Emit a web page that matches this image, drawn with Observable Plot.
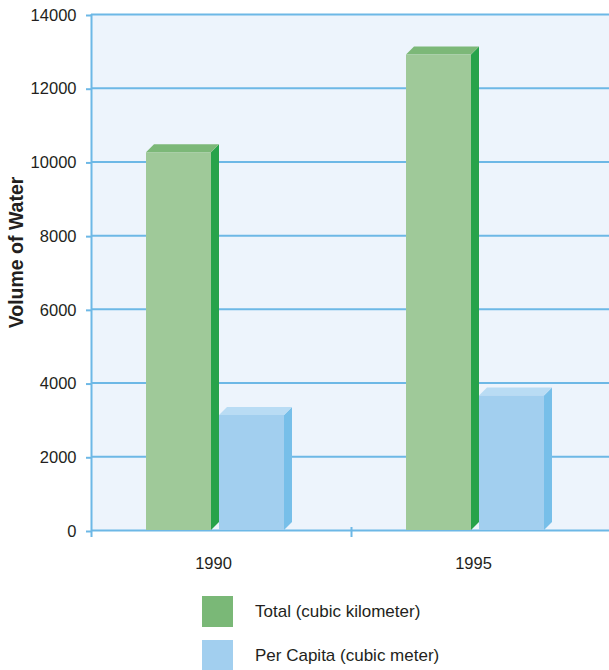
<!DOCTYPE html>
<html><head><meta charset="utf-8">
<script src="https://cdn.jsdelivr.net/npm/d3@7"></script>
<script src="https://cdn.jsdelivr.net/npm/@observablehq/plot@0.6"></script>
<style>
body{margin:0;background:#fff;font-family:"Liberation Sans",Arial,Helvetica,sans-serif;color:#231f20}
#legend{position:relative;height:85px;width:609px}
.item{position:absolute;left:202px;display:flex;align-items:center;font-size:17px;height:31px}
.sw{width:31px;height:31px;margin-right:22px}
</style></head><body>
<div id="chart"></div>
<div id="legend"></div>
<script>
const years = ["1990", "1995"];
const seriesNames = ["Total (cubic kilometer)", "Per Capita (cubic meter)"];
const totalValues = [10250, 12900];
const perCapitaValues = [3120, 3650];
const yTicks = [0, 2000, 4000, 6000, 8000, 10000, 12000, 14000];
const yLabel = "Volume of Water";

const gridColor = "#6db8e6";
const bgColor = "#edf4fc";
const colors = {
  total: {front: "#9fc999", top: "#7cb878", side: "#27a34a", legend: "#7ab877"},
  perCapita: {front: "#a2cfef", top: "#b9dcf4", side: "#77bfe9", legend: "#a2cfef"}
};

const totalData = years.map((y, i) => ({year: y, value: totalValues[i]}));
const perCapitaData = years.map((y, i) => ({year: y, value: perCapitaValues[i]}));

const band = (611 - 91) / years.length;
const totalInset = {insetLeft: 55, insetRight: 140};
const perInset = {insetLeft: 128, insetRight: 67};

function faces(data, inset, c, key) {
  return [
    Plot.barY(data, {x: "year", y: "value", fill: c.side, ariaDescription: "side-" + key, ...inset}),
    Plot.barY(data, {x: "year", y: "value", fill: c.top, ariaDescription: "top-" + key, ...inset}),
    Plot.barY(data, {x: "year", y: "value", fill: c.front, ariaDescription: "front-" + key, ...inset})
  ];
}

const chart = Plot.plot({
  width: 609,
  height: 585,
  marginLeft: 91,
  marginRight: 0,
  marginTop: 14,
  marginBottom: 55,
  style: {fontFamily: '"Liberation Sans", Arial, Helvetica, sans-serif', fontSize: "16.5px", color: "#231f20", background: "white", overflow: "visible"},
  x: {type: "band", domain: years, range: [91, 611], padding: 0},
  y: {domain: [0, 14000]},
  marks: [
    Plot.frame({fill: bgColor, stroke: "none"}),
    Plot.ruleY(yTicks, {stroke: gridColor, strokeWidth: 2}),
    Plot.axisY({ticks: yTicks, tickSize: 5, tickPadding: 10, stroke: gridColor, strokeWidth: 2, strokeOpacity: 1, tickFormat: d => String(d), label: null, dy: 1, fontSize: 16.5}),
    Plot.ruleX([years[0]], {x: d => d, dx: -band / 2, stroke: gridColor, strokeWidth: 2, insetBottom: -7}),
    Plot.ruleX([years[1]], {x: d => d, dx: -band / 2, y1: 0, y2: 0, stroke: gridColor, strokeWidth: 2, insetTop: -3, insetBottom: -7}),
    Plot.axisX({tickSize: 0, tickPadding: 27, dx: -8, label: null, fontSize: 16.5}),
    Plot.text([yLabel], {frameAnchor: "left", textAnchor: "middle", rotate: -90, dx: -75, dy: -20, fontWeight: "bold", fontSize: 19.5, fill: "#231f20"}),
    ...faces(totalData, totalInset, colors.total, "total"),
    ...faces(perCapitaData, perInset, colors.perCapita, "per")
  ]
});

// turn side/top copies of the front bars into 3D faces
const depth = 8;
const NS = "http://www.w3.org/2000/svg";
chart.querySelectorAll('g[aria-description^="top-"] rect').forEach(r => {
  const x = +r.getAttribute("x"), y = +r.getAttribute("y"), w = +r.getAttribute("width");
  const p = document.createElementNS(NS, "path");
  p.setAttribute("d", `M${x},${y}L${x + depth},${y - depth}L${x + w + depth},${y - depth}L${x + w},${y}Z`);
  r.replaceWith(p);
});
chart.querySelectorAll('g[aria-description^="side-"] rect').forEach(r => {
  const x = +r.getAttribute("x"), y = +r.getAttribute("y"), w = +r.getAttribute("width"), h = +r.getAttribute("height");
  const X = x + w;
  const p = document.createElementNS(NS, "path");
  p.setAttribute("d", `M${X},${y}L${X + depth},${y - depth}L${X + depth},${y + h - depth}L${X},${y + h}Z`);
  r.replaceWith(p);
});
document.getElementById("chart").appendChild(chart);

const legend = document.getElementById("legend");
[[seriesNames[0], colors.total.legend, 11], [seriesNames[1], colors.perCapita.legend, 55]].forEach(([name, col, top]) => {
  const it = document.createElement("div");
  it.className = "item";
  it.style.top = top + "px";
  const sw = document.createElement("div");
  sw.className = "sw";
  sw.style.background = col;
  const t = document.createElement("span");
  t.textContent = name;
  it.appendChild(sw);
  it.appendChild(t);
  legend.appendChild(it);
});
</script>
</body></html>
